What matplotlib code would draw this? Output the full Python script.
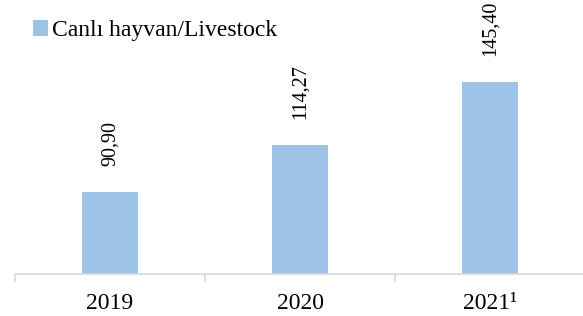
import matplotlib
matplotlib.use("Agg")
import matplotlib.pyplot as plt
from matplotlib.patches import Patch

categories = ["2019", "2020", "2021\u00b9"]
values = [90.90, 114.27, 145.40]
value_labels = ["90,90", "114,27", "145,40"]
series_name = "Canlı hayvan/Livestock"

plt.rcParams['font.family'] = ['Liberation Serif', 'DejaVu Serif']

W, H = 583, 316
fig = plt.figure(figsize=(W/100, H/100), dpi=100)
ax = fig.add_axes([15/W, (H-274)/H, 570/W, 274/H])

bar_color = "#9DC3E6"
x = list(range(len(categories)))
ax.bar(x, values, width=0.295, color=bar_color, zorder=2)
ax.set_xlim(-0.5, 2.5)
ax.set_ylim(50, 186)

texts = []
for xi, v, lab in zip(x, values, value_labels):
    t = ax.annotate(lab, (xi, v), xytext=(0, 18.5), textcoords="offset points",
                    rotation=90, ha="center", va="bottom", fontsize=14.5,
                    annotation_clip=False)
    texts.append(t)

for s in ["top", "right", "left"]:
    ax.spines[s].set_visible(False)
ax.spines["bottom"].set_color("#d9d9d9")
ax.spines["bottom"].set_linewidth(1.2)
ax.set_yticks([])
ax.set_xticks(x)
ax.set_xticklabels(categories, fontsize=17)
ax.tick_params(axis="x", which="major", length=0, pad=14)
ax.set_xticks([-0.5, 0.5, 1.5, 2.5], minor=True)
ax.tick_params(axis="x", which="minor", length=5.5, color="#d9d9d9", width=1.2)

handle = Patch(facecolor=bar_color, edgecolor="none")
fig.legend([handle], [series_name], loc="upper left", bbox_to_anchor=(33/W, 1 - 20/H),
           frameon=False, fontsize=17, handlelength=0.64, handleheight=0.64,
           handletextpad=0.15, borderpad=0, borderaxespad=0)

# keep data labels near the top edge (push down if they overflow too far)
fig.canvas.draw()
renderer = fig.canvas.get_renderer()
for t in texts:
    bb = t.get_window_extent(renderer)
    over = bb.y1 - (H + 6)
    if over > 0:
        t.xyann = (0, t.xyann[1] - over * 72 / 100)

fig.savefig("out.png", dpi=100)
